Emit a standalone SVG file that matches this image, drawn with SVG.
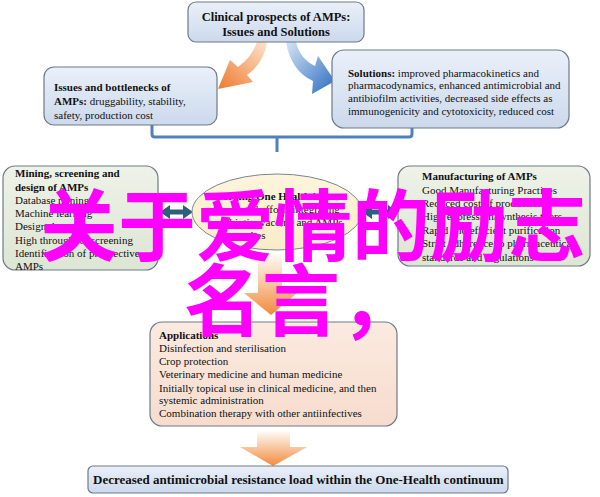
<svg xmlns="http://www.w3.org/2000/svg" width="600" height="497" viewBox="0 0 600 497">
<defs>
<style>
.t{font-family:"Liberation Serif","Times New Roman",serif;font-size:11px;fill:#111}
.b{font-weight:bold}
.box{stroke:#6f7a88;stroke-width:1.2}
.wm{font-family:"Noto Sans CJK SC","Noto Sans",sans-serif;font-size:78px;fill:#ff00ff;font-weight:bold}
.dbl{fill:#2e5f7e}
</style>
<linearGradient id="gBlue" x1="0" y1="0" x2="0" y2="1"><stop offset="0" stop-color="#eaf0f9"/><stop offset="1" stop-color="#ccd9ec"/></linearGradient>
<linearGradient id="gGreen" x1="0" y1="0" x2="0" y2="1"><stop offset="0" stop-color="#eef2e8"/><stop offset="1" stop-color="#dde5d4"/></linearGradient>
<linearGradient id="gYel" x1="0" y1="0" x2="0" y2="1"><stop offset="0" stop-color="#fdf5dc"/><stop offset="1" stop-color="#f8ecc8"/></linearGradient>
<linearGradient id="gPeach" x1="0" y1="0" x2="0" y2="1"><stop offset="0" stop-color="#fbeae0"/><stop offset="1" stop-color="#f6dccd"/></linearGradient>
<linearGradient id="gOrD" x1="0" y1="0" x2="0" y2="1"><stop offset="0" stop-color="#ffffff"/><stop offset="1" stop-color="#f28a3c"/></linearGradient>
<linearGradient id="gOrC" x1="1" y1="0" x2="0" y2="1"><stop offset="0" stop-color="#fde3cc"/><stop offset="1" stop-color="#ee7a2e"/></linearGradient>
<linearGradient id="gBlC" x1="0" y1="0" x2="1" y2="1"><stop offset="0" stop-color="#d6e4f5"/><stop offset="1" stop-color="#2a6cc0"/></linearGradient>
</defs>

<g id="connectors">
<path d="M152 125 V134 Q152 137 155 137 H409 Q412 137 412 134 V127" fill="none" stroke="#4f81bd" stroke-width="3"/>
<path d="M277 137 V152" fill="none" stroke="#4f81bd" stroke-width="3"/>
<path d="M257 42 L267 42 Q264 63 247 75 L253 82 L218 89 L230 60 L238 67 Q252 57 257 42 Z" fill="url(#gOrC)"/>
<path d="M286 42 L296 42 Q300 59 315 66 L318 56 L335 81 L312 94 L313 81 Q291 71 286 42 Z" fill="url(#gBlC)"/>
<path d="M160 212 L170 205 V209.5 H183 V205 L193 212 L183 219 V214.5 H170 V219 Z" class="dbl"/>
<path d="M362 212 L372 205 V209.5 H388 V205 L398 212 L388 219 V214.5 H372 V219 Z" class="dbl"/>
<path d="M258 252 H282 V293 H297 L271 315 L244 293 H258 Z" fill="url(#gOrD)"/>
<path d="M257 430 H290 V447 H307 L273 466 L240 447 H257 Z" fill="url(#gOrD)"/>
</g>

<g id="top">
<rect x="188" y="2" width="176" height="40" rx="8" fill="url(#gBlue)" class="box"/>
<text class="t b" x="276" y="21" text-anchor="middle" style="font-size:12.5px">Clinical prospects of AMPs:</text>
<text class="t b" x="276" y="36" text-anchor="middle" style="font-size:12.5px">Issues and Solutions</text>
</g>

<g id="issues">
<rect x="44" y="67" width="173" height="58" rx="10" fill="url(#gBlue)" class="box"/>
<text class="t" x="54" y="91"><tspan class="b">Issues and bottlenecks of</tspan></text>
<text class="t" x="54" y="105"><tspan class="b">AMPs:</tspan> druggability, stability,</text>
<text class="t" x="54" y="119">safety, production cost</text>
</g>

<g id="solutions">
<rect x="332" y="50" width="237" height="78" rx="12" fill="url(#gBlue)" class="box"/>
<text class="t" x="348" y="77"><tspan class="b">Solutions:</tspan> improved pharmacokinetics and</text>
<text class="t" x="348" y="89">pharmacodynamics, enhanced antimicrobial and</text>
<text class="t" x="348" y="102">antibiofilm activities, decreased side effects as</text>
<text class="t" x="348" y="115">immunogenicity and cytotoxicity, reduced cost</text>
</g>

<g id="mining">
<rect x="3" y="166" width="155" height="104" rx="12" fill="url(#gGreen)" class="box"/>
<text class="t b" x="15" y="177">Mining, screening and</text>
<text class="t b" x="15" y="191">design of AMPs</text>
<text class="t" x="15" y="204">Database mining</text>
<text class="t" x="15" y="217">Machine learning</text>
<text class="t" x="15" y="230">Design de novo</text>
<text class="t" x="15" y="244">High throughput screening</text>
<text class="t" x="15" y="257">Identification of prospective</text>
<text class="t" x="15" y="270">AMPs</text>
</g>

<g id="onehealth">
<ellipse cx="277" cy="212" rx="85" ry="38" fill="url(#gYel)" stroke="#7d8590" stroke-width="1"/>
<text class="t b" x="216" y="200">Forging One Health issues:</text>
<text class="t" x="213" y="213">Concerted efforts integrating</text>
<text class="t" x="213" y="226">antibiotic, vaccine and AMPs</text>
<text class="t" x="216" y="239">approaches</text>
</g>

<g id="manufacturing">
<rect x="398" y="166" width="192" height="100" rx="12" fill="url(#gGreen)" class="box"/>
<text class="t b" x="422" y="180">Manufacturing of AMPs</text>
<text class="t" x="422" y="194">Good Manufacturing Practices</text>
<text class="t" x="422" y="207">Reduced cost of production</text>
<text class="t" x="422" y="220">High expression/synthesis titers</text>
<text class="t" x="422" y="234">Rapid and efficient purification</text>
<text class="t" x="422" y="247">Strict adherence to pharmaceutical</text>
<text class="t" x="422" y="261">standards and regulations</text>
</g>

<g id="applications">
<rect x="150" y="322" width="247" height="104" rx="12" fill="url(#gPeach)" class="box"/>
<text class="t b" x="159" y="339">Applications</text>
<text class="t" x="159" y="352">Disinfection and sterilisation</text>
<text class="t" x="159" y="365">Crop protection</text>
<text class="t" x="159" y="378">Veterinary medicine and human medicine</text>
<text class="t" x="159" y="392">Initially topical use in clinical medicine, and then</text>
<text class="t" x="159" y="404">systemic administration</text>
<text class="t" x="159" y="417">Combination therapy with other antiinfectives</text>
</g>

<g id="outcome">
<rect x="88" y="466" width="420" height="27" rx="5" fill="url(#gBlue)" class="box"/>
<text class="t b" x="93" y="484" style="font-size:13px">Decreased antimicrobial resistance load within the One-Health continuum</text>
</g>

<g id="watermark">
<text class="wm" x="40" y="255">关于爱情的励志</text>
<text class="wm" x="184" y="330">名言，</text>
</g>
</svg>
